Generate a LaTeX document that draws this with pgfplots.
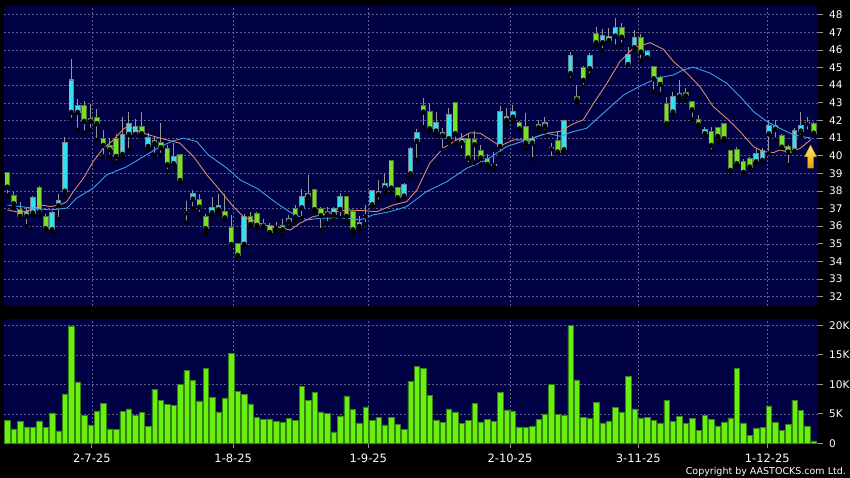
\documentclass[border=0pt]{standalone}
\usepackage{pgfplots}
\pgfplotsset{compat=1.18}
\usepackage{pgfplotstable}
\usepackage{fontspec}
\setmainfont{DejaVu Sans}
\definecolor{navybg}{RGB}{0,0,68}
\definecolor{gridc}{RGB}{95,95,140}
\definecolor{tickc}{RGB}{150,150,150}
\definecolor{upfill}{RGB}{50,225,240}
\definecolor{upedge}{RGB}{110,135,150}
\definecolor{dnfill}{RGB}{120,225,35}
\definecolor{dnedge}{RGB}{85,120,60}
\definecolor{dojic}{RGB}{150,160,170}
\definecolor{wickc}{RGB}{150,150,150}
\definecolor{maor}{RGB}{215,140,100}
\definecolor{mabl}{RGB}{60,160,230}
\definecolor{volfill}{RGB}{105,240,15}
\definecolor{voledge}{RGB}{55,130,20}
\definecolor{arrtop}{RGB}{255,235,120}
\definecolor{arrbot}{RGB}{230,160,0}

\pgfplotstableread{
i o h l c
0 39.00 39.05 37.73 38.24
1 37.71 37.95 37.05 37.30
2 36.92 37.36 36.54 36.58
3 36.58 37.10 36.00 36.79
4 36.77 37.73 36.60 37.58
5 38.15 38.30 36.60 36.82
6 36.54 36.70 35.80 35.88
7 35.82 36.85 35.70 36.73
8 37.19 37.80 36.40 37.41
9 38.01 41.04 37.77 40.70
10 42.48 45.47 42.03 44.26
11 42.48 43.20 41.46 42.84
12 42.84 43.10 41.30 41.97
13 41.97 42.93 41.46 42.10
14 42.12 42.63 40.89 41.84
15 40.93 41.46 39.94 40.61
16 40.57 41.00 39.94 40.36
17 40.93 41.20 39.60 39.98
18 40.10 42.20 39.85 41.17
19 41.23 42.50 40.32 41.80
20 41.23 42.10 41.17 41.61
21 41.60 42.50 41.08 41.27
22 40.55 41.30 40.30 40.99
23 40.70 41.08 40.04 40.80
24 40.70 41.84 40.04 40.48
25 40.36 40.60 39.10 39.51
26 39.57 40.70 39.47 39.91
27 40.04 40.04 38.50 38.62
28 36.78 37.40 36.20 36.78
29 37.56 38.05 37.00 37.81
30 37.49 37.80 36.70 37.11
31 36.50 36.70 35.60 35.88
32 36.79 37.67 36.64 37.05
33 36.96 37.80 36.70 37.15
34 36.81 37.85 36.45 36.50
35 35.88 36.64 34.84 34.99
36 34.99 34.99 34.20 34.37
37 34.99 36.70 34.99 36.54
38 36.54 36.80 36.00 36.12
39 36.67 36.80 35.90 36.07
40 36.12 36.40 35.90 36.02
41 36.00 36.20 35.55 35.67
42 35.96 36.26 35.69 35.96
43 36.00 36.39 35.50 35.82
44 36.29 36.64 35.97 36.38
45 36.96 37.20 36.26 36.54
46 37.07 38.09 36.45 37.64
47 37.71 38.90 37.39 37.81
48 38.05 38.05 36.90 36.96
49 36.96 37.11 35.78 36.62
50 36.79 37.07 36.16 36.68
51 36.69 37.07 36.35 36.96
52 36.98 37.87 36.45 37.64
53 37.64 37.64 36.26 36.58
54 36.82 36.90 35.60 35.82
55 36.02 36.60 35.75 36.15
56 36.60 37.20 36.10 36.60
57 37.24 38.05 37.11 37.98
58 37.81 38.62 37.39 37.92
59 38.20 39.00 37.87 38.38
60 39.69 39.69 37.87 38.18
61 38.15 38.24 37.45 37.64
62 37.73 38.43 37.67 38.34
63 39.00 40.50 38.80 40.36
64 40.85 41.50 39.76 41.27
65 42.82 43.26 41.61 42.50
66 42.50 43.00 41.40 41.55
67 41.42 42.50 41.10 41.84
68 41.16 41.55 40.32 41.27
69 40.99 42.69 40.70 42.30
70 42.97 42.97 40.70 41.27
71 40.76 41.30 40.30 40.95
72 40.95 41.20 39.50 39.89
73 40.89 41.40 39.60 40.65
74 40.28 40.60 39.50 39.89
75 39.80 40.10 39.30 39.53
76 39.49 40.20 39.20 39.49
77 40.55 42.80 40.10 42.50
78 42.03 42.70 41.74 42.21
79 42.21 42.90 41.90 42.50
80 41.87 41.95 41.45 41.55
81 41.61 42.40 40.40 40.74
82 40.74 41.10 39.80 40.93
83 41.61 42.00 41.40 41.74
84 41.70 42.18 41.36 41.84
85 40.42 40.70 39.85 40.42
86 40.85 41.36 40.14 40.23
87 40.36 42.00 40.30 41.97
88 44.68 45.90 44.30 45.67
89 43.35 44.00 42.97 43.20
90 44.99 45.10 43.90 44.30
91 44.96 45.85 44.56 45.67
92 46.90 47.32 46.28 46.43
93 46.43 47.20 45.96 46.81
94 46.56 47.23 46.47 46.75
95 46.81 47.80 46.18 47.23
96 47.23 47.50 46.30 46.75
97 45.20 46.18 45.15 45.71
98 46.15 47.10 45.96 46.66
99 46.66 46.90 45.40 45.90
100 45.58 46.00 45.53 45.87
101 45.02 45.02 43.63 44.39
102 44.39 44.50 43.50 44.07
103 42.93 43.30 41.70 41.84
104 42.50 43.63 42.41 43.35
105 43.38 44.30 43.16 43.50
106 43.55 43.82 43.12 43.42
107 43.05 43.05 42.07 42.63
108 42.03 42.31 41.65 41.78
109 41.27 41.65 41.08 41.46
110 41.36 41.65 40.23 40.61
111 41.55 41.65 40.80 41.12
112 41.78 41.78 40.80 40.99
113 40.27 40.27 39.10 39.19
114 40.32 40.50 39.45 39.57
115 39.63 39.80 39.00 39.08
116 39.80 39.90 39.30 39.38
117 39.68 40.42 39.57 40.08
118 39.76 40.42 39.70 40.28
119 41.27 42.03 40.14 41.68
120 41.52 42.00 40.90 41.65
121 41.12 41.20 40.45 40.51
122 40.48 40.61 39.47 40.23
123 40.28 41.55 40.20 41.40
124 41.42 42.50 41.08 41.68
125 41.84 42.21 41.36 41.84
126 41.78 41.90 41.25 41.30
}\candles

\pgfplotstableread{
i v
0 3.90
1 2.43
2 3.67
3 2.77
4 2.66
5 3.79
6 2.66
7 5.14
8 2.09
9 8.36
10 19.90
11 10.40
12 4.69
13 3.11
14 5.48
15 6.72
16 2.43
17 2.32
18 5.37
19 5.82
20 4.69
21 5.20
22 2.82
23 9.10
24 7.23
25 6.61
26 6.44
27 10.00
28 12.37
29 10.62
30 7.18
31 12.70
32 7.80
33 5.31
34 7.68
35 15.25
36 8.76
37 8.25
38 6.67
39 4.35
40 4.00
41 4.12
42 3.67
43 3.60
44 4.24
45 3.90
46 9.66
47 7.23
48 8.59
49 5.31
50 5.08
51 1.92
52 4.63
53 8.02
54 5.76
55 3.45
56 6.16
57 3.90
58 4.35
59 3.11
60 4.35
61 3.22
62 2.37
63 10.45
64 13.05
65 12.70
66 8.08
67 3.95
68 3.56
69 5.82
70 5.31
71 3.33
72 3.90
73 6.78
74 3.62
75 4.00
76 3.67
77 8.64
78 5.65
79 5.48
80 2.77
81 2.71
82 2.82
83 4.07
84 4.97
85 9.94
86 4.86
87 4.75
88 20.00
89 10.73
90 4.41
91 4.24
92 6.95
93 3.45
94 3.79
95 6.05
96 5.25
97 11.36
98 5.82
99 4.29
100 4.35
101 3.84
102 3.45
103 7.29
104 3.73
105 4.58
106 3.33
107 4.24
108 2.20
109 4.69
110 4.07
111 2.94
112 3.62
113 4.29
114 12.70
115 3.45
116 1.36
117 2.60
118 2.71
119 6.33
120 3.50
121 2.15
122 3.16
123 7.29
124 5.59
125 2.94
126 0.40
}\vol

\pgfplotsset{
  chartbase/.style={
    scale only axis, width=814pt,
    xmin=-0.52, xmax=126.67,
    axis background/.style={fill=navybg},
    axis line style={draw=none},
    tick align=outside, major tick length=5pt,
    xtick={13.2,35.3,56.4,78.55,98.6,118.75},
    xtick pos=left, ytick pos=right, yticklabel pos=right,
    grid=major,
    major grid style={draw=gridc, line width=0.5pt, dash pattern=on 2pt off 2pt},
    ytick style={draw=tickc, line width=0.7pt},
    tick label style={text=white},
    yticklabel style={font=\fontsize{10.5}{12}\selectfont, anchor=west, inner sep=0pt, xshift=6pt},
    /pgf/number format/assume math mode=true,
  },
}

\begin{document}
\begin{tikzpicture}
\useasboundingbox (0pt,0pt) rectangle (850pt,478pt);
\fill[black] (0pt,0pt) rectangle (850pt,478pt);

% ---------- price panel ----------
\begin{axis}[chartbase,
  at={(4pt,172pt)}, anchor=south west, height=300pt,
  ymin=31.47, ymax=48.49,
  ytick={32,33,...,48},
  xticklabels={}, xtick style={draw=none},
]
% wicks
\addplot[only marks, mark=none, forget plot,
  error bars/.cd, y dir=plus, y explicit, error mark=none,
  error bar style={line width=1pt, draw=wickc}]
  table[x=i, y=l, y error expr=\thisrow{h}-\thisrow{l}] {\candles};
% up candles: outline then fill
\addplot[only marks, mark=none, forget plot,
  error bars/.cd, y dir=plus, y explicit, error mark=none,
  error bar style={line width=5.6pt, draw=upedge}]
  table[x=i, y expr={\thisrow{c}>\thisrow{o} ? \thisrow{o}-0.06 : -10},
        y error expr={\thisrow{c}>\thisrow{o} ? \thisrow{c}-\thisrow{o}+0.12 : 0}] {\candles};
\addplot[only marks, mark=none, forget plot,
  error bars/.cd, y dir=plus, y explicit, error mark=none,
  error bar style={line width=3.8pt, draw=upfill}]
  table[x=i, y expr={\thisrow{c}>\thisrow{o} ? \thisrow{o} : -10},
        y error expr={\thisrow{c}>\thisrow{o} ? \thisrow{c}-\thisrow{o} : 0}] {\candles};
% down candles
\addplot[only marks, mark=none, forget plot,
  error bars/.cd, y dir=plus, y explicit, error mark=none,
  error bar style={line width=5.6pt, draw=dnedge}]
  table[x=i, y expr={\thisrow{c}<\thisrow{o} ? \thisrow{c}-0.06 : -10},
        y error expr={\thisrow{c}<\thisrow{o} ? \thisrow{o}-\thisrow{c}+0.12 : 0}] {\candles};
\addplot[only marks, mark=none, forget plot,
  error bars/.cd, y dir=plus, y explicit, error mark=none,
  error bar style={line width=3.8pt, draw=dnfill}]
  table[x=i, y expr={\thisrow{c}<\thisrow{o} ? \thisrow{c} : -10},
        y error expr={\thisrow{c}<\thisrow{o} ? \thisrow{o}-\thisrow{c} : 0}] {\candles};
% doji
\addplot[only marks, mark=none, forget plot,
  error bars/.cd, y dir=plus, y explicit, error mark=none,
  error bar style={line width=5.6pt, draw=dojic}]
  table[x=i, y expr={\thisrow{c}==\thisrow{o} ? \thisrow{o}-0.05 : -10},
        y error expr={\thisrow{c}==\thisrow{o} ? 0.1 : 0}] {\candles};

% moving averages
\addplot[color=maor, line width=0.9pt, mark=none] coordinates {
(0,36.92) (2,36.77) (4,36.96) (5.4,37.2) (6.7,37.11) (8.2,37.2) (9.3,37.39) (10.3,37.96)
(11.9,38.72) (13.4,39.66) (15,40.42) (16.6,40.89) (18.1,41.5) (18.9,41.68) (21.25,41.27)
(23.9,40.99) (27,40.7) (29.1,39.94) (31.2,38.9) (33.2,38.05) (35.3,37.11) (36.9,36.54)
(40,36.07) (43.1,35.88) (44.2,35.78) (45.7,36.16) (47.8,36.54) (50.4,36.73) (53,36.92)
(55.6,36.88) (57.7,36.82) (60.3,37.2) (62.4,37.39) (64,38.05) (66,39.57) (68.1,40.42)
(70.2,40.89) (72.3,41.3) (73.9,41.27) (75.9,40.8) (77,40.55) (79.1,40.89) (81.2,40.89)
(84.3,41.27) (86.4,41.38) (88.4,41.8) (90,42.03) (91.6,42.97) (93.7,44.11) (95.7,45.33)
(97.8,46.09) (100.4,46.41) (102.5,46.04) (104.1,45.33) (106.2,44.68) (108.2,43.92)
(110.3,42.78) (112.4,42.12) (114.5,41.36) (116.6,40.51) (118.1,40.23) (119.7,40.17)
(120.7,40.32) (122.3,40.17) (123.9,40.42) (125.6,40.92)
};
\addplot[color=mabl, line width=0.9pt, mark=none] coordinates {
(0,37.2) (2,37.11) (4.1,37.02) (6.7,36.92) (9.3,37.02) (10.8,37.58) (13.4,38.15) (15.5,38.9)
(18.7,39.38) (21.25,39.94) (23.9,40.51) (26,40.85) (27.5,40.99) (29.6,40.8) (31.4,40.04)
(34.3,39.29) (36.4,38.62) (39,38.15) (42.1,37.3) (44.2,36.79) (46.8,36.35) (48.9,36.45)
(53,36.45) (55.1,36.35) (57.2,36.64) (59.8,36.82) (62.4,37.11) (65.5,37.96) (68.7,38.53)
(71.8,39.29) (74.9,39.76) (78,40.51) (81.2,40.89) (84.3,41.27) (86.4,41.1) (88.4,41.36)
(90.5,41.55) (93.1,42.4) (96.3,43.44) (98.9,43.95) (101.5,44.39) (104.1,44.58) (105.6,44.86)
(107.2,45.02) (109.8,44.68) (112.4,44.11) (114.5,43.35) (116.6,42.5) (118.7,41.93)
(120.7,41.55) (122.9,41.17) (125.6,40.99)
};
% marker arrow
\fill[top color=arrtop, bottom color=arrbot, draw=arrbot!70!black, line width=0.4pt]
 (axis cs:125.5,40.61) -- (axis cs:126.47,39.93) -- (axis cs:125.97,39.93)
 -- (axis cs:125.97,39.29) -- (axis cs:125.03,39.29) -- (axis cs:125.03,39.93)
 -- (axis cs:124.53,39.93) -- cycle;
\end{axis}

% ---------- volume panel ----------
\begin{axis}[chartbase,
  at={(4pt,34.7pt)}, anchor=south west, height=124pt,
  ymin=0, ymax=21.02,
  ytick={0,5,10,15,20}, yticklabels={0,5K,10K,15K,20K},
  xticklabels={2-7-25,1-8-25,1-9-25,2-10-25,3-11-25,1-12-25},
  xticklabel style={font=\fontsize{11.5}{13}\selectfont, anchor=north, inner sep=0pt, yshift=-5.5pt},
  xtick style={draw=tickc, line width=0.7pt},
]
\addplot[ybar, bar width=5.4pt, bar shift=0pt, fill=volfill, draw=voledge, line width=0.6pt]
  table[x=i, y=v] {\vol};
\end{axis}

\node[anchor=base east, inner sep=0pt, text=white, font=\fontsize{9.5}{11}\selectfont]
  at (846pt,3pt) {Copyright by AASTOCKS.com Ltd.};
\end{tikzpicture}
\end{document}
